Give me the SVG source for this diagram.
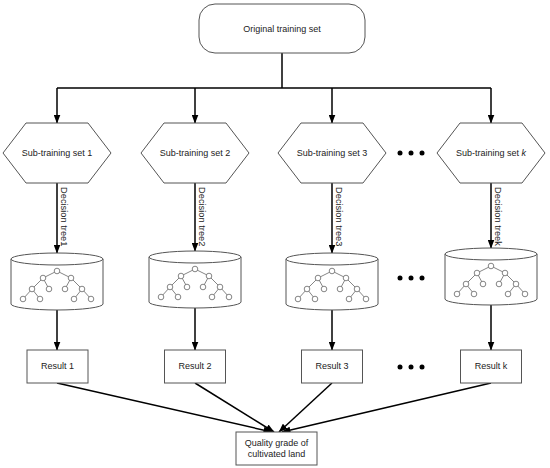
<svg xmlns="http://www.w3.org/2000/svg" xmlns:xlink="http://www.w3.org/1999/xlink" width="550" height="468" viewBox="0 0 550 468">
<style>
  text { font-family: "Liberation Sans", Arial, sans-serif; font-size: 9px; fill: #222; }
  .lbl { font-size: 9.3px; }
  .shape { fill: #fff; stroke: #555; stroke-width: 1; }
  .conn { fill: none; stroke: #000; stroke-width: 1.5; }
  .tedge { stroke: #666; stroke-width: 0.8; }
  .tnode { fill: #fff; stroke: #666; stroke-width: 0.8; }
  .dot { fill: #000; }
</style>
<defs>
  <marker id="arr" markerUnits="userSpaceOnUse" markerWidth="9" markerHeight="7" refX="8.5" refY="3.5" orient="auto">
    <path d="M0,0 L9,3.5 L0,7 z" fill="#000"/>
  </marker>
  <g id="tree">
    <line class="tedge" x1="0" y1="18" x2="-14" y2="25"/>
    <line class="tedge" x1="0" y1="18" x2="14" y2="25"/>
    <line class="tedge" x1="-14" y1="25" x2="-25" y2="36"/>
    <line class="tedge" x1="-14" y1="25" x2="-8" y2="36"/>
    <line class="tedge" x1="14" y1="25" x2="8" y2="36"/>
    <line class="tedge" x1="14" y1="25" x2="25" y2="36"/>
    <line class="tedge" x1="-25" y1="36" x2="-34" y2="46"/>
    <line class="tedge" x1="-25" y1="36" x2="-17" y2="46"/>
    <line class="tedge" x1="25" y1="36" x2="17" y2="46"/>
    <line class="tedge" x1="25" y1="36" x2="34" y2="46"/>
    <circle class="tnode" cx="0" cy="18" r="2.8"/>
    <circle class="tnode" cx="-14" cy="25" r="2.8"/>
    <circle class="tnode" cx="14" cy="25" r="2.8"/>
    <circle class="tnode" cx="-25" cy="36" r="2.8"/>
    <circle class="tnode" cx="-8" cy="36" r="2.8"/>
    <circle class="tnode" cx="8" cy="36" r="2.8"/>
    <circle class="tnode" cx="25" cy="36" r="2.8"/>
    <circle class="tnode" cx="-34" cy="46" r="2.8"/>
    <circle class="tnode" cx="-17" cy="46" r="2.8"/>
    <circle class="tnode" cx="17" cy="46" r="2.8"/>
    <circle class="tnode" cx="34" cy="46" r="2.8"/>
  </g>
</defs>

<!-- Connectors -->
<g id="connectors">
  <path class="conn" d="M282,53 L282,88"/>
  <path class="conn" d="M57,88 L491,88"/>
  <path class="conn" d="M57,88 L57,123" marker-end="url(#arr)"/>
  <path class="conn" d="M195,88 L195,123" marker-end="url(#arr)"/>
  <path class="conn" d="M332,88 L332,123" marker-end="url(#arr)"/>
  <path class="conn" d="M491,88 L491,123" marker-end="url(#arr)"/>

  <path class="conn" d="M57,183 L57,253" marker-end="url(#arr)"/>
  <path class="conn" d="M195,183 L195,251" marker-end="url(#arr)"/>
  <path class="conn" d="M332,183 L332,253" marker-end="url(#arr)"/>
  <path class="conn" d="M491,183 L491,248" marker-end="url(#arr)"/>
  <text class="lbl" transform="translate(61,187) rotate(90)">Decision tree1</text>
  <text class="lbl" transform="translate(199,187) rotate(90)">Decision tree2</text>
  <text class="lbl" transform="translate(336,187) rotate(90)">Decision tree3</text>
  <text class="lbl" transform="translate(495,187) rotate(90)">Decision treek</text>

  <path class="conn" d="M57,310 L57,350" marker-end="url(#arr)"/>
  <path class="conn" d="M195,308 L195,350" marker-end="url(#arr)"/>
  <path class="conn" d="M332,310 L332,350" marker-end="url(#arr)"/>
  <path class="conn" d="M491,305 L491,350" marker-end="url(#arr)"/>

  <path class="conn" d="M57,383 L272,432" marker-end="url(#arr)"/>
  <path class="conn" d="M195,383 L274,432" marker-end="url(#arr)"/>
  <path class="conn" d="M332,383 L279,432" marker-end="url(#arr)"/>
  <path class="conn" d="M491,383 L282,432" marker-end="url(#arr)"/>
</g>

<!-- Top node -->
<g id="original">
  <rect class="shape" x="199" y="4" width="166" height="49" rx="16" ry="16"/>
  <text x="282" y="32" text-anchor="middle">Original training set</text>
</g>

<!-- Hexagons -->
<g id="sub1">
  <polygon class="shape" points="3,153 26,123 88,123 111,153 88,183 26,183"/>
  <text x="57" y="156" text-anchor="middle">Sub-training set 1</text>
</g>
<g id="sub2">
  <polygon class="shape" points="141,153 164,123 226,123 249,153 226,183 164,183"/>
  <text x="195" y="156" text-anchor="middle">Sub-training set 2</text>
</g>
<g id="sub3">
  <polygon class="shape" points="278,153 301,123 363,123 386,153 363,183 301,183"/>
  <text x="332" y="156" text-anchor="middle">Sub-training set 3</text>
</g>
<g id="subk">
  <polygon class="shape" points="437,153 460,123 522,123 545,153 522,183 460,183"/>
  <text x="491" y="156" text-anchor="middle">Sub-training set <tspan font-style="italic">k</tspan></text>
</g>
<g id="dots1">
  <circle class="dot" cx="400" cy="153" r="2.5"/>
  <circle class="dot" cx="411" cy="153" r="2.5"/>
  <circle class="dot" cx="422" cy="153" r="2.5"/>
</g>

<!-- Cylinders -->
<g id="tree1">
  <path class="shape" d="M11,259 L11,304 A46,6 0 0 0 103,304 L103,259"/>
  <ellipse class="shape" cx="57" cy="259" rx="46" ry="6"/>
  <use xlink:href="#tree" x="57" y="253"/>
</g>
<g id="tree2">
  <path class="shape" d="M149,257 L149,302 A46,6 0 0 0 241,302 L241,257"/>
  <ellipse class="shape" cx="195" cy="257" rx="46" ry="6"/>
  <use xlink:href="#tree" x="195" y="251"/>
</g>
<g id="tree3">
  <path class="shape" d="M286,259 L286,304 A46,6 0 0 0 378,304 L378,259"/>
  <ellipse class="shape" cx="332" cy="259" rx="46" ry="6"/>
  <use xlink:href="#tree" x="332" y="253"/>
</g>
<g id="treek">
  <path class="shape" d="M445,254 L445,299 A46,6 0 0 0 537,299 L537,254"/>
  <ellipse class="shape" cx="491" cy="254" rx="46" ry="6"/>
  <use xlink:href="#tree" x="491" y="248"/>
</g>
<g id="dots2">
  <circle class="dot" cx="400" cy="278" r="2.5"/>
  <circle class="dot" cx="411" cy="278" r="2.5"/>
  <circle class="dot" cx="422" cy="278" r="2.5"/>
</g>

<!-- Results -->
<g id="result1">
  <rect class="shape" x="27" y="350" width="61" height="33"/>
  <text x="57.5" y="369" text-anchor="middle">Result 1</text>
</g>
<g id="result2">
  <rect class="shape" x="164.5" y="350" width="61" height="33"/>
  <text x="195" y="369" text-anchor="middle">Result 2</text>
</g>
<g id="result3">
  <rect class="shape" x="301.5" y="350" width="61" height="33"/>
  <text x="332" y="369" text-anchor="middle">Result 3</text>
</g>
<g id="resultk">
  <rect class="shape" x="460.5" y="350" width="61" height="33"/>
  <text x="491" y="369" text-anchor="middle">Result k</text>
</g>
<g id="dots3">
  <circle class="dot" cx="400" cy="367" r="2.5"/>
  <circle class="dot" cx="411" cy="367" r="2.5"/>
  <circle class="dot" cx="422" cy="367" r="2.5"/>
</g>

<!-- Final -->
<g id="quality">
  <rect class="shape" x="236" y="432" width="81" height="33"/>
  <text x="276.5" y="446" text-anchor="middle">Quality grade of</text>
  <text x="276.5" y="457" text-anchor="middle">cultivated land</text>
</g>
</svg>
